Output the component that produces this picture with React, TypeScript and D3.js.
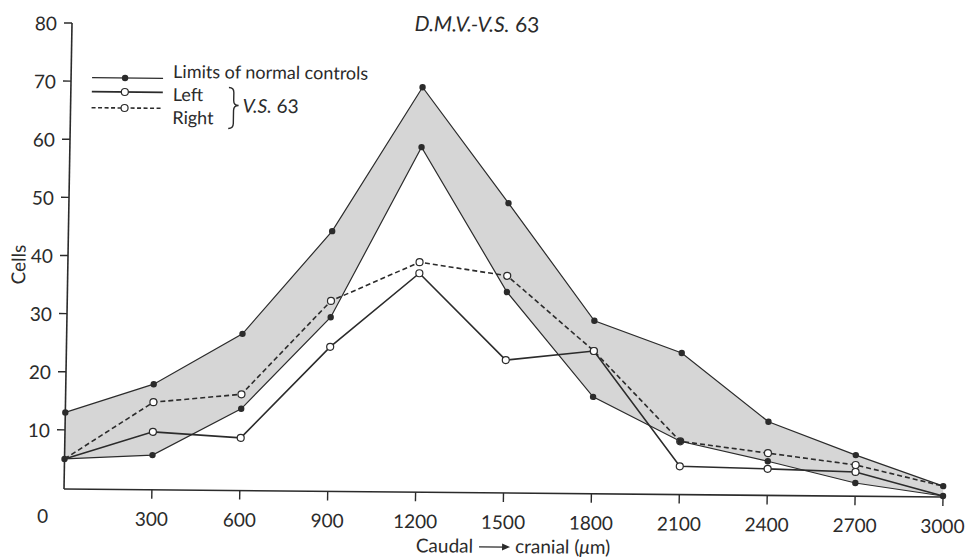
import React from 'react';
import * as d3 from 'd3';

// Distance along the nucleus (µm), caudal -> cranial
const distances = [0, 300, 600, 900, 1200, 1500, 1800, 2100, 2400, 2700, 3000];
// Limits of normal controls
const upperLimit = [13, 18, 26.8, 44.6, 69.5, 49.7, 29.6, 24.2, 12.5, 6.9, 1.7];
const lowerLimit = [5, 5.8, 13.9, 29.8, 59.2, 34.4, 16.5, 9.0, 5.7, 2.1, 0];
// V.S. 63
const leftSide = [5, 9.8, 8.9, 24.7, 37.5, 22.7, 24.4, 4.7, 4.4, 4.0, 0];
const rightSide = [5, 14.9, 16.4, 32.6, 39.4, 37.2, 24.4, 9.0, 7.1, 5.2, 1.7];

const xTicks = [300, 600, 900, 1200, 1500, 1800, 2100, 2400, 2700, 3000];
const yTicks = [10, 20, 30, 40, 50, 60, 70, 80];

const W = 969;
const H = 558;
const INK = '#2b2b2b';
const FONT = 'Lato, "Open Sans", sans-serif';

export default function App() {
  const x = d3.scaleLinear().domain([0, 3000]).range([64, 943]);
  const y = d3.scaleLinear().domain([0, 80]).range([488, 23]);
  const axisY = 489;

  const rows = distances.map((d, i) => ({
    d,
    upper: upperLimit[i],
    lower: lowerLimit[i],
    left: leftSide[i],
    right: rightSide[i],
  }));

  const area = d3
    .area<(typeof rows)[number]>()
    .x((r) => x(r.d))
    .y0((r) => y(r.lower))
    .y1((r) => y(r.upper));

  const mkLine = (key: 'upper' | 'lower' | 'left' | 'right') =>
    d3
      .line<(typeof rows)[number]>()
      .x((r) => x(r.d))
      .y((r) => y(r[key]))(rows) as string;

  // slight skew of the scanned original
  const skew = 'matrix(1,0.0091,-0.0172,1,8.41,-0.58)';

  // legend geometry
  const lgX0 = 85;
  const lgX1 = 156;
  const lgM = 118;
  const braceX = 222;
  const braceTop = 86;
  const braceBot = 127;
  const braceMid = 104;
  const bracePath = `M${braceX},${braceTop} Q${braceX + 5},${braceTop} ${braceX + 5},${braceTop + 5} L${braceX + 5},${braceMid - 5} Q${braceX + 5},${braceMid} ${braceX + 10},${braceMid} Q${braceX + 5},${braceMid} ${braceX + 5},${braceMid + 5} L${braceX + 5},${braceBot - 5} Q${braceX + 5},${braceBot} ${braceX},${braceBot}`;

  return (
    <svg
      width={W}
      height={H}
      style={{ position: 'absolute', left: 0, top: 0, background: '#fff' }}
      fontFamily={FONT}
    >
      <rect x={0} y={0} width={W} height={H} fill="#fff" />
      <g transform={skew}>
        {/* title */}
        <text x={469} y={28} textAnchor="middle" fontSize={21} fill={INK}>
          <tspan fontStyle="italic">D.M.V.-V.S.</tspan>
          <tspan> 63</tspan>
        </text>

        {/* shaded band of normal controls */}
        <path d={area(rows) as string} fill="#d6d6d6" stroke="none" />

        {/* axes */}
        <line x1={x(0)} x2={x(0)} y1={y(80)} y2={axisY} stroke={INK} strokeWidth={1.6} />
        <line x1={x(0)} x2={x(3000)} y1={axisY} y2={axisY} stroke={INK} strokeWidth={1.6} />
        {yTicks.map((t) => (
          <g key={`yt${t}`}>
            <line x1={x(0) - 8} x2={x(0)} y1={y(t)} y2={y(t)} stroke={INK} strokeWidth={1.4} />
            <text x={49} y={y(t)} textAnchor="end" dominantBaseline="central" fontSize={19} fill={INK}>
              {t}
            </text>
          </g>
        ))}
        {xTicks.map((t) => (
          <g key={`xt${t}`}>
            <line x1={x(t)} x2={x(t)} y1={axisY} y2={axisY + 9} stroke={INK} strokeWidth={1.4} />
            <text x={x(t)} y={525} textAnchor="middle" fontSize={19} fill={INK}>
              {t}
            </text>
          </g>
        ))}
        <text x={43} y={523} textAnchor="middle" fontSize={19} fill={INK}>
          0
        </text>

        {/* axis titles */}
        <text
          transform="translate(14,265) rotate(-90)"
          textAnchor="middle"
          dominantBaseline="central"
          fontSize={19}
          fill={INK}
        >
          Cells
        </text>
        <text x={474} y={549} textAnchor="end" fontSize={19} fill={INK}>
          Caudal
        </text>
        <line x1={480} x2={508} y1={543} y2={543} stroke={INK} strokeWidth={1.3} />
        <path d="M503,539.5 L511,543 L503,546.5 Z" fill={INK} />
        <text x={516} y={549} textAnchor="start" fontSize={19} fill={INK}>
          cranial (<tspan fontStyle="italic">μ</tspan>m)
        </text>

        {/* series lines */}
        <path d={mkLine('upper')} fill="none" stroke={INK} strokeWidth={1.2} />
        <path d={mkLine('lower')} fill="none" stroke={INK} strokeWidth={1.2} />
        <path d={mkLine('left')} fill="none" stroke={INK} strokeWidth={1.6} />
        <path d={mkLine('right')} fill="none" stroke={INK} strokeWidth={1.6} strokeDasharray="5,3" />

        {/* open markers (V.S. 63) */}
        {rows.map((r, i) =>
          i > 0 && i < rows.length - 1 ? (
            <g key={`o${i}`}>
              <circle cx={x(r.d)} cy={y(r.left)} r={3.5} fill="#fff" stroke={INK} strokeWidth={1.2} />
              <circle cx={x(r.d)} cy={y(r.right)} r={3.5} fill="#fff" stroke={INK} strokeWidth={1.2} />
            </g>
          ) : null
        )}
        {/* filled markers (limits) */}
        {rows.map((r, i) => (
          <g key={`f${i}`}>
            <circle cx={x(r.d)} cy={y(r.upper)} r={3.2} fill={INK} />
            <circle cx={x(r.d)} cy={y(r.lower)} r={3.2} fill={INK} />
          </g>
        ))}

        {/* legend */}
        <line x1={lgX0} x2={lgX1} y1={77.5} y2={77.5} stroke={INK} strokeWidth={1.2} />
        <circle cx={lgM} cy={77.5} r={3.2} fill={INK} />
        <text x={166} y={77} fontSize={18} fill={INK}>
          Limits of normal controls
        </text>

        <line x1={lgX0} x2={lgX1} y1={91.5} y2={91.5} stroke={INK} strokeWidth={1.8} />
        <circle cx={lgM} cy={91.5} r={3.5} fill="#fff" stroke={INK} strokeWidth={1.2} />
        <text x={166} y={100} fontSize={18} fill={INK}>
          Left
        </text>

        <line x1={lgX0} x2={lgX1} y1={107.5} y2={107.5} stroke={INK} strokeWidth={1.6} strokeDasharray="4,2.5" />
        <circle cx={lgM} cy={107.5} r={3.5} fill="#fff" stroke={INK} strokeWidth={1.2} />
        <text x={166} y={123} fontSize={18} fill={INK}>
          Right
        </text>

        <path d={bracePath} fill="none" stroke={INK} strokeWidth={1.4} />
        <text x={236} y={111} fontSize={19} fill={INK}>
          <tspan fontStyle="italic">V.S.</tspan>
          <tspan> 63</tspan>
        </text>
      </g>
    </svg>
  );
}
